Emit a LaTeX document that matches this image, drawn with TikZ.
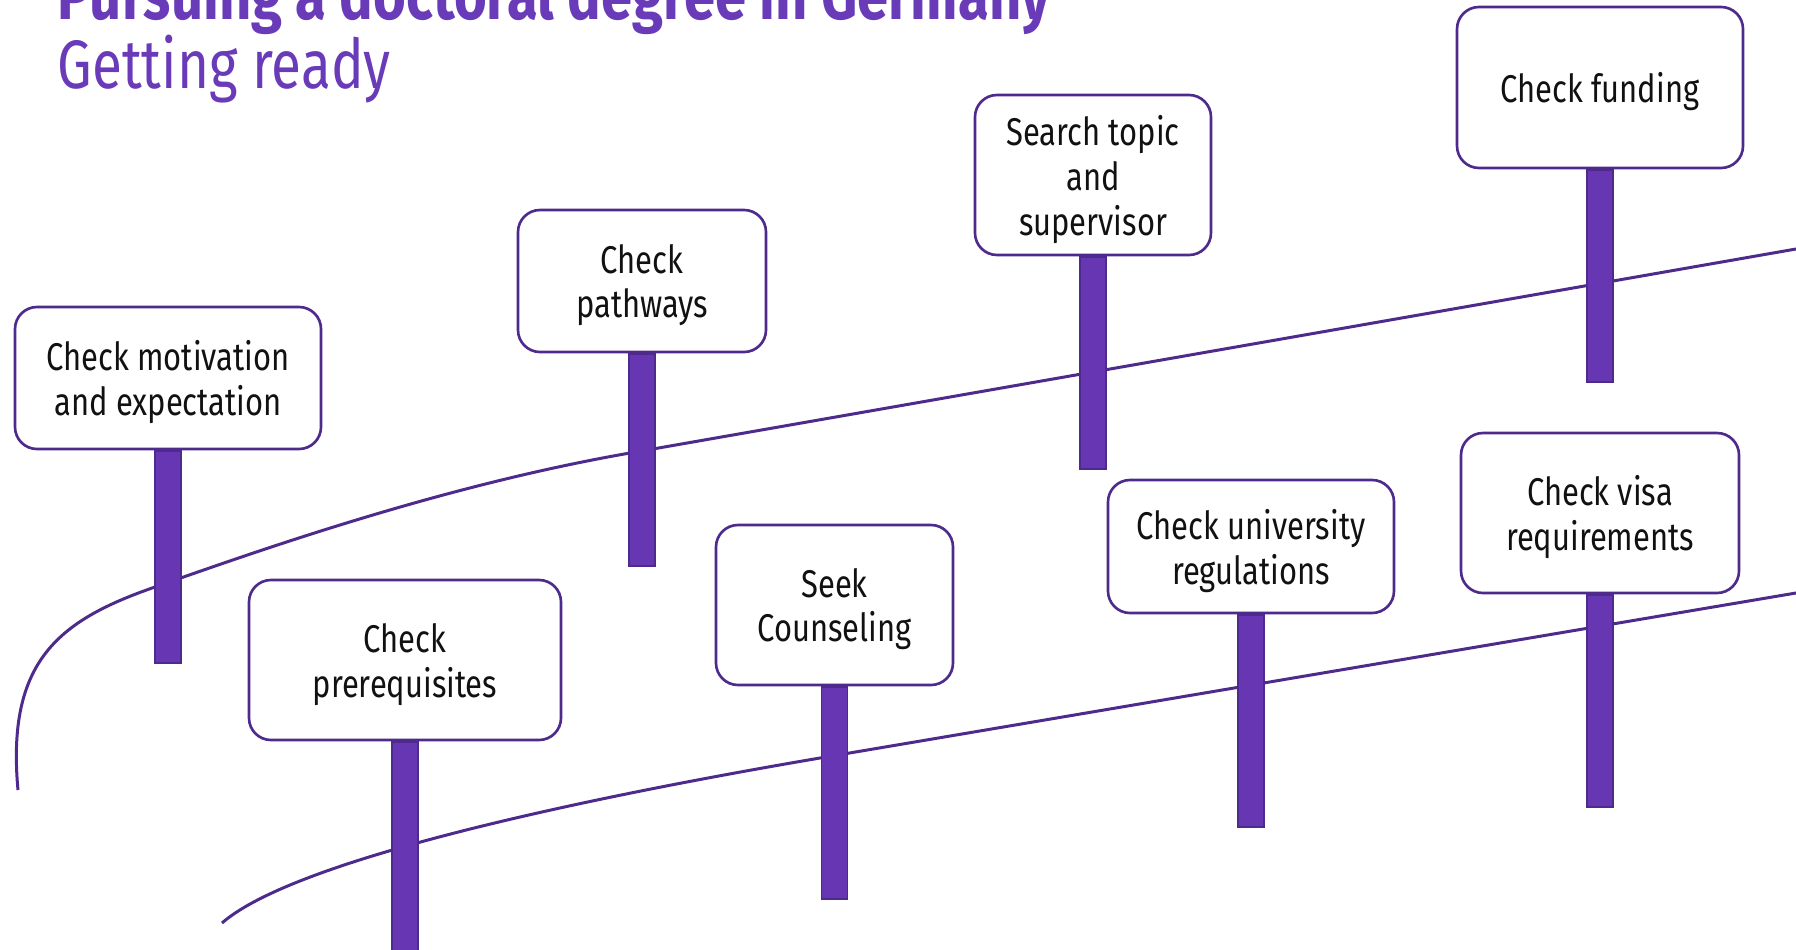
\documentclass[tikz,border=0pt]{standalone}
\usepackage{fontspec}
\setmainfont[FakeStretch=0.80]{Fira Sans}
\newfontfamily\headfont[FakeStretch=0.82]{Fira Sans}
\usepackage{xcolor}
\usetikzlibrary{positioning}
\definecolor{postfill}{HTML}{6737B3}
\definecolor{postedge}{HTML}{4D2A8C}
\definecolor{roadline}{HTML}{4D2A8C}
\definecolor{titlecol}{HTML}{6A3BB8}
\definecolor{signtext}{HTML}{111111}
\tikzset{
  road/.style={draw=roadline, line width=0.85pt},
  sign/.style={draw=postedge, fill=white, line width=0.75pt, rounded corners=0.22cm,
    align=center, text=signtext, font=\fontsize{11}{12.8}\selectfont, inner sep=0pt,
    text depth=0pt},
  post/.style={draw=postedge, fill=postfill, line width=0.5pt, inner sep=0pt,
    minimum width=0.26cm, minimum height=2.12cm},
  ttl/.style={text=titlecol, inner sep=0pt, font=\fontsize{19.5}{22}\selectfont},
  ttlbold/.style={text=titlecol, inner sep=0pt, font=\fontsize{19.5}{22}\headfont\bfseries}
}
\begin{document}
\begin{tikzpicture}
  \useasboundingbox (0,0) rectangle (17.96,-9.50);

  % title
  \node[ttlbold, anchor=base west] (title) at (0.57,-0.20) {Pursuing a doctoral degree in Germany};
  \node[ttl, anchor=base west] (subtitle) at (0.57,-0.89) {Getting ready};

  % the two roads
  \draw[road] (0.18,-7.90) .. controls (0.06,-6.6) and (0.6,-6.2) .. (1.55,-5.87)
    .. controls (2.55,-5.52) and (4.4,-4.86) .. (6.30,-4.53) -- (17.96,-2.49);
  \draw[road] (2.22,-9.23) .. controls (3.0,-8.55) and (6.2,-7.92) .. (8.20,-7.58)
    -- (17.96,-5.93);

  % signs
  \node[sign, minimum width=3.06cm, minimum height=1.42cm] (motiv) at (1.68,-3.78)
    {Check motivation\\and expectation};
  \node[sign, minimum width=2.48cm, minimum height=1.42cm] (paths) at (6.42,-2.81)
    {Check\\pathways};
  \node[sign, minimum width=2.36cm, minimum height=1.60cm] (topic) at (10.93,-1.75)
    {Search topic\\and\\supervisor};
  \node[sign, minimum width=2.86cm, minimum height=1.61cm] (fund) at (16.00,-0.875)
    {Check funding};
  \node[sign, minimum width=3.12cm, minimum height=1.60cm] (prereq) at (4.05,-6.60)
    {Check\\prerequisites};
  \node[sign, minimum width=2.37cm, minimum height=1.60cm] (counsel) at (8.345,-6.05)
    {Seek\\Counseling};
  \node[sign, minimum width=2.86cm, minimum height=1.33cm] (regul) at (12.51,-5.465)
    {Check university\\regulations};
  \node[sign, minimum width=2.78cm, minimum height=1.60cm] (visa) at (16.00,-5.13)
    {Check visa\\requirements};

  % posts
  \node[post, below=0pt of motiv] (motivpost) {};
  \node[post, below=0pt of paths] (pathspost) {};
  \node[post, below=0pt of topic] (topicpost) {};
  \node[post, below=0pt of fund] (fundpost) {};
  \node[post, below=0pt of prereq] (prereqpost) {};
  \node[post, below=0pt of counsel] (counselpost) {};
  \node[post, below=0pt of regul] (regulpost) {};
  \node[post, below=0pt of visa] (visapost) {};
\end{tikzpicture}
\end{document}
